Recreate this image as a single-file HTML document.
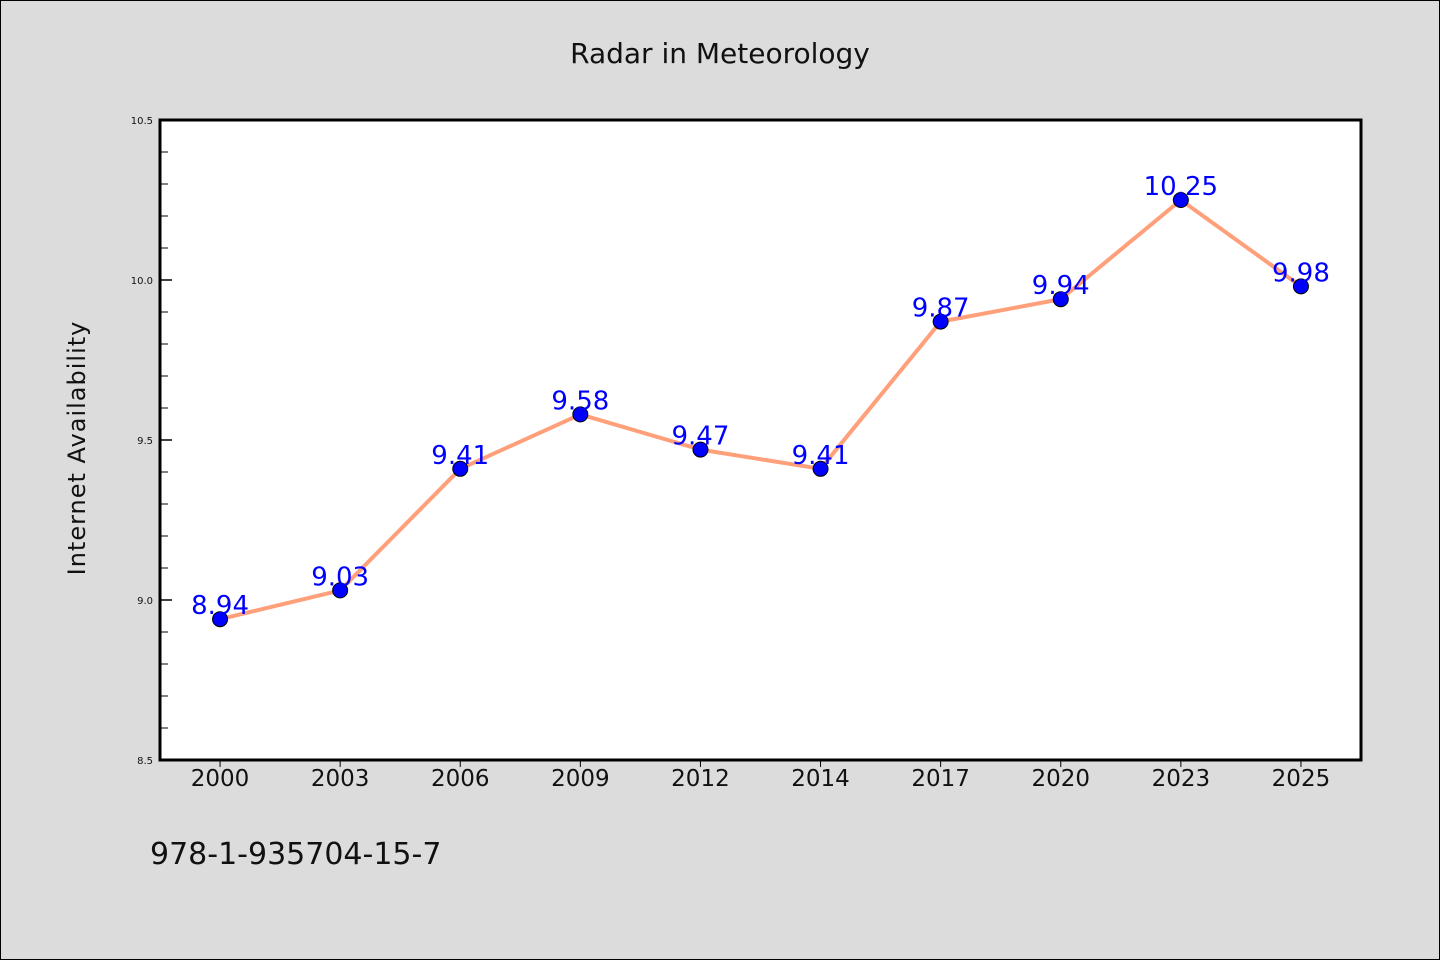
<!DOCTYPE html>
<html><head><meta charset="utf-8"><style>
html,body{margin:0;padding:0;background:#dcdcdc;}
svg{display:block;}
text{font-family:"WenQuanYi Zen Hei","DejaVu Sans",sans-serif;}
</style></head><body>
<svg width="1440" height="960" viewBox="0 0 1440 960">
<rect x="0.5" y="0.5" width="1439" height="959" fill="#dcdcdc" stroke="#000"/>
<text x="720" y="63" text-anchor="middle" font-size="28" fill="#111">Radar in Meteorology</text>
<rect x="160" y="120" width="1201" height="640" fill="#fff"/>
<g id="yaxis"></g>
<g id="xaxis"></g>
<g id="series"></g>
<rect x="160" y="120" width="1201" height="640" fill="none" stroke="#000" stroke-width="3"/>
<text transform="translate(85,448) rotate(-90)" text-anchor="middle" font-size="24" fill="#111" letter-spacing="1">Internet Availability</text>
<text x="150" y="864" font-size="30" fill="#111">978-1-935704-15-7</text>
</svg>
<script>
const categories=["2000","2003","2006","2009","2012","2014","2017","2020","2023","2025"];
const values=[8.94,9.03,9.41,9.58,9.47,9.41,9.87,9.94,10.25,9.98];
const labels=["8.94","9.03","9.41","9.58","9.47","9.41","9.87","9.94","10.25","9.98"];
const yTicks=[8.5,9.0,9.5,10.0,10.5];
const yTickLabels=["8.5","9.0","9.5","10.0","10.5"];
const ns="http://www.w3.org/2000/svg";
const x0=160,x1=1361,yTop=120,yBot=760,yMin=8.5,yMax=10.5;
const step=(x1-x0)/categories.length;
function xs(i){return x0+step*(i+0.5);}
function ys(v){return yBot-(v-yMin)/(yMax-yMin)*(yBot-yTop);}
function mk(t,a,p){const e=document.createElementNS(ns,t);for(const k in a)e.setAttribute(k,a[k]);p.appendChild(e);return e;}
const ya=document.getElementById('yaxis'),xa=document.getElementById('xaxis'),sg=document.getElementById('series');
yTicks.forEach((v,i)=>{
 const t=mk('line',{x1:x0,x2:x0+12,y1:ys(v),y2:ys(v),stroke:'#000','stroke-width':1.5},ya);
 
 
 const l=mk('text',{x:x0-7,y:ys(v)+4,'text-anchor':'end','font-size':10,fill:'#111'},ya);
 l.textContent=yTickLabels[i];
 
 
 if(i<yTicks.length-1){for(let k=1;k<5;k++){const mv=v+(yTicks[i+1]-v)*k/5;
  const m=mk('line',{x1:x0,x2:x0+8,y1:ys(mv),y2:ys(mv),stroke:'#000','stroke-width':1},ya);
  
  }}
});
categories.forEach((c,i)=>{
 const t=mk('line',{x1:xs(i),x2:xs(i),y1:yBot,y2:yBot+7,stroke:'#000','stroke-width':1},xa);
 
 
 const l=mk('text',{x:xs(i),y:yBot+26,'text-anchor':'middle','font-size':23,fill:'#111'},xa);
 l.textContent=c;
 
 
});
const pl=mk('polyline',{points:values.map((v,i)=>xs(i)+','+ys(v)).join(' '),fill:'none',stroke:'#ffa07a','stroke-width':4,'stroke-linejoin':'round'},sg);


values.forEach((v,i)=>{
 const c=mk('circle',{cx:xs(i),cy:ys(v),r:7.5,fill:'#0000ff',stroke:'#000','stroke-width':1},sg);
 
 
});
values.forEach((v,i)=>{
 const l=mk('text',{x:xs(i),y:ys(v)-5,'text-anchor':'middle','font-size':26,fill:'#0000ff'},sg);
 l.textContent=labels[i];
 
 
});
</script>
</body></html>
